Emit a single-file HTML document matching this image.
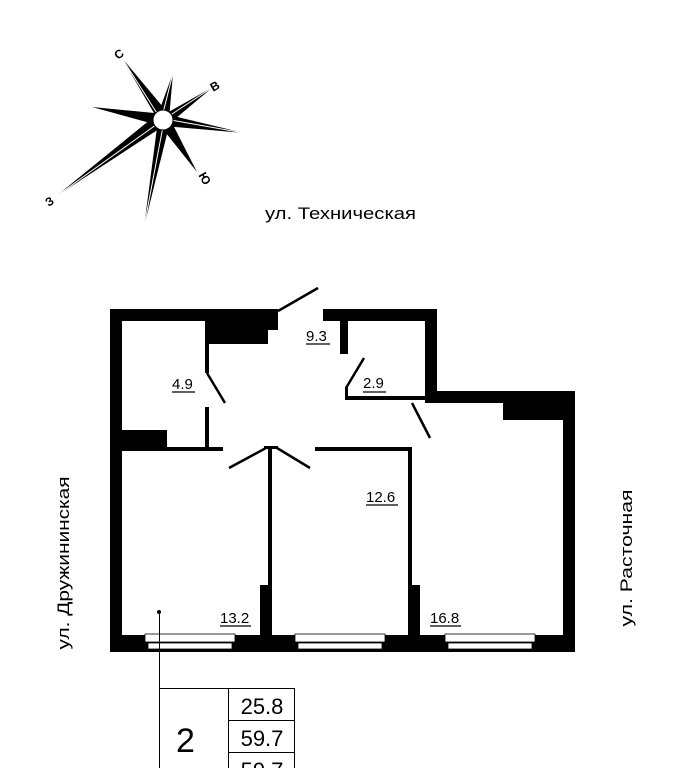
<!DOCTYPE html>
<html><head><meta charset="utf-8"><style>
html,body{margin:0;padding:0;background:#fff}
svg{display:block}
text{font-family:"Liberation Sans",sans-serif;fill:#000}
</style></head><body>
<svg width="679" height="768" viewBox="0 0 679 768" xmlns="http://www.w3.org/2000/svg">
<!-- compass -->
<g fill="#000">
<polygon points="122,58 168,113 158,120"/>
<polygon points="213,87 165,114 169,124"/>
<polygon points="244,133 165,114 164,126"/>
<polygon points="173,73 157,117 169,119"/>
<polygon points="92,107 165,114 161,126"/>
<polygon points="55,197 156,115 165,125"/>
<polygon points="144,227 158,120 170,122"/>
<polygon points="197,172 158,123 168,115"/>
</g>
<g stroke="#fff" stroke-width="1">
<line x1="122" y1="58" x2="160" y2="118"/>
<line x1="213" y1="87" x2="166" y2="118"/>
<line x1="244" y1="133" x2="165" y2="119"/>
<line x1="173" y1="73" x2="162" y2="117"/>
<line x1="55" y1="197" x2="160" y2="122"/>
<line x1="144" y1="227" x2="164" y2="121"/>
</g>
<circle cx="163" cy="120" r="10" fill="#fff" stroke="#000" stroke-width="1"/>
<g font-size="12" font-weight="bold">
<text x="114" y="58" transform="rotate(-35 119 53)">С</text>
<text x="210" y="90" transform="rotate(-30 215 85)">В</text>
<text x="200" y="182" transform="rotate(60 205 177)">Ю</text>
<text x="45" y="205" transform="rotate(-35 50 200)">З</text>
</g>
<text x="265" y="219" font-size="17" textLength="151" lengthAdjust="spacingAndGlyphs">ул. Техническая</text>
<text font-size="17" transform="translate(69,563) rotate(-90)" text-anchor="middle" textLength="173" lengthAdjust="spacingAndGlyphs">ул. Дружининская</text>
<text font-size="17" transform="translate(632,558) rotate(-90)" text-anchor="middle" textLength="137" lengthAdjust="spacingAndGlyphs">ул. Расточная</text>

<!-- walls -->
<g fill="#000">
<rect x="110" y="309" width="168" height="12"/>
<rect x="323" y="309" width="114" height="12"/>
<rect x="110" y="309" width="12" height="343"/>
<rect x="425" y="309" width="12" height="94"/>
<rect x="425" y="391" width="150" height="12"/>
<rect x="563" y="391" width="12" height="261"/>
<rect x="110" y="635" width="465" height="17"/>
<rect x="205" y="321" width="63" height="23"/>
<rect x="268" y="321" width="10" height="9"/>
<rect x="205" y="344" width="4" height="29"/>
<rect x="205" y="407" width="4" height="42"/>
<rect x="122" y="447" width="101" height="4"/>
<rect x="122" y="430" width="45" height="18"/>
<rect x="340" y="321" width="8" height="33"/>
<rect x="345" y="387" width="3" height="12"/>
<rect x="345" y="396" width="80" height="4"/>
<rect x="503" y="403" width="60" height="17"/>
<rect x="315" y="447" width="95" height="4"/>
<rect x="408" y="447" width="4" height="188"/>
<rect x="408" y="585" width="12" height="50"/>
<rect x="268" y="447" width="4" height="188"/>
<rect x="260" y="585" width="12" height="50"/>
<rect x="264" y="446" width="14" height="3"/>
</g>
<!-- doors -->
<g stroke="#000" stroke-width="2.5">
<line x1="278" y1="311" x2="318" y2="288"/>
<line x1="207" y1="373" x2="225" y2="403"/>
<line x1="346" y1="388" x2="364" y2="358"/>
<line x1="412" y1="403" x2="430" y2="438"/>
<line x1="266" y1="448" x2="229" y2="468"/>
<line x1="277" y1="448" x2="310" y2="468"/>
</g>
<!-- windows -->
<g fill="#fff" stroke="#000" stroke-width="0.8">
<rect x="145" y="634" width="90" height="8"/>
<rect x="148" y="643" width="84" height="6"/>
<rect x="295" y="634" width="90" height="8"/>
<rect x="298" y="643" width="84" height="6"/>
<rect x="445" y="634" width="90" height="8"/>
<rect x="448" y="643" width="84" height="6"/>
</g>
<!-- labels -->
<g font-size="15">
<text x="306" y="341">9.3</text>
<text x="172" y="389">4.9</text>
<text x="363" y="388">2.9</text>
<text x="366" y="502">12.6</text>
<text x="220" y="623">13.2</text>
<text x="430" y="623">16.8</text>
</g>
<g stroke="#000" stroke-width="1.2">
<line x1="306" y1="344" x2="330" y2="344"/>
<line x1="172" y1="392" x2="195" y2="392"/>
<line x1="363" y1="392" x2="386" y2="392"/>
<line x1="366" y1="505" x2="398" y2="505"/>
<line x1="220" y1="626" x2="251" y2="626"/>
<line x1="430" y1="626" x2="461" y2="626"/>
</g>
<circle cx="159" cy="612" r="2" fill="#000"/>
<!-- leader + table -->
<g stroke="#000" stroke-width="1" fill="none">
<line x1="159.5" y1="612" x2="159.5" y2="768"/>
<line x1="160" y1="688.5" x2="295" y2="688.5"/>
<line x1="228.5" y1="688" x2="228.5" y2="768"/>
<line x1="294.5" y1="688" x2="294.5" y2="768"/>
<line x1="229" y1="720.5" x2="295" y2="720.5"/>
<line x1="229" y1="752.5" x2="295" y2="752.5"/>
</g>
<text x="176" y="752" font-size="34">2</text>
<g font-size="22" text-anchor="middle">
<text x="262" y="714">25.8</text>
<text x="262" y="746">59.7</text>
<text x="262" y="778">59.7</text>
</g>
</svg>
</body></html>
